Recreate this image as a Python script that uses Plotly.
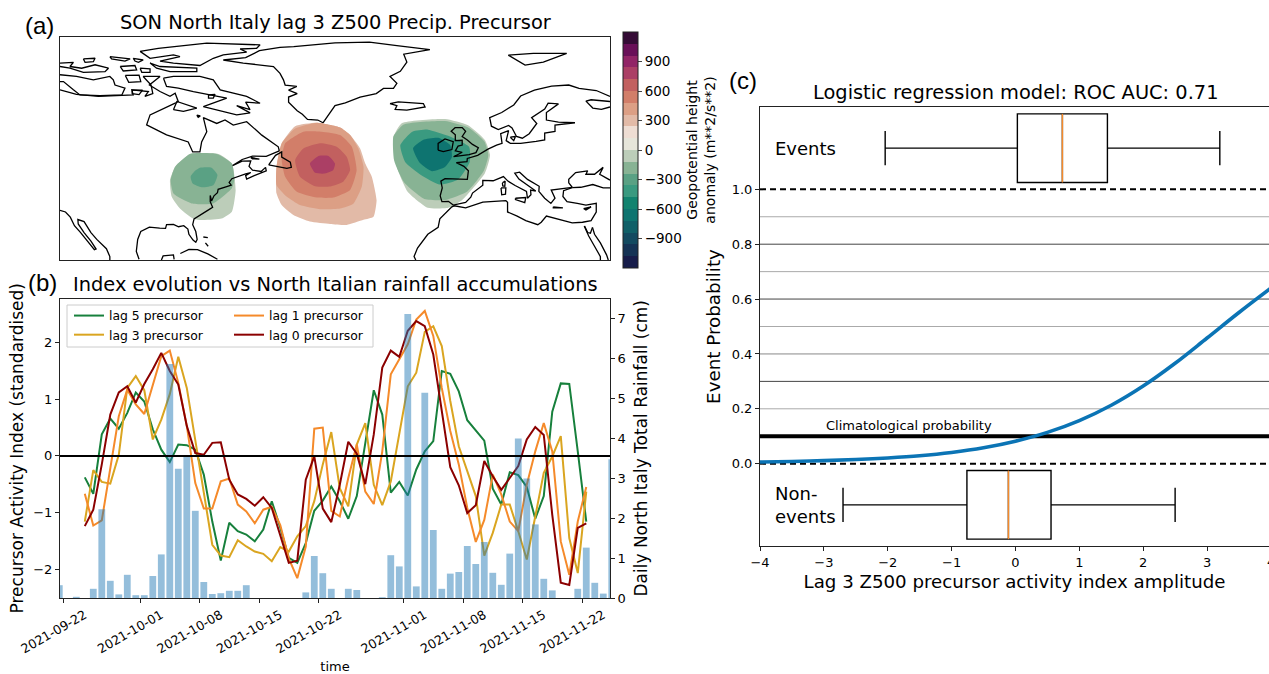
import pandas as pd
import plotly.graph_objects as go

W, H = 1269, 674
FONT = "DejaVu Sans"

# ---------- panel (a): coastlines as (lon, lat) ----------
mainland_north = [(-120,69.6),(-115.2,68.3),(-108.8,67.7),(-101.6,67.9),(-98.7,68.1),(-99.1,69.6),(-94.3,69.1),(-95.3,67.7),(-93,68.5),(-93.5,71),(-95.8,73.5),(-90.9,73.5),(-94,71),(-90.9,69.1),(-88,67.7),(-86.5,68.6),(-85.6,66.2),(-86.5,65.7),(-93.8,62.3),(-94.8,59.4),(-89,56.5),(-82.7,54.4),(-81.4,51.5),(-79.3,51.5),(-78.8,54.4),(-77.3,57.4),(-78.3,61.5),(-74.4,59.8),(-72,60.8),(-69.6,59.3),(-65.7,60.3),(-61.3,56.4),(-56.5,53),(-56.2,51.8)]
east_america = [(-56.2,51.8),(-60,50.2),(-64,50.3),(-67,49.3),(-69.8,47.5),(-67,48.8),(-64.5,48.9),(-65,47.3),(-64,46.2),(-61.5,45.8),(-60.2,47),(-60,46),(-63.5,44.6),(-65.7,43.6),(-66,44.6),(-64.5,45.5),(-66,45.1),(-67.5,44.6),(-70,43.7),(-70.8,42.6),(-70.2,41.8),(-71.5,41.4),(-74,40.6),(-74.2,39.6),(-75.2,38.7),(-75.9,37.2),(-76.3,38.8),(-76.3,37),(-75.6,35.4),(-76.8,34.6),(-78,33.9),(-79.5,33),(-81,32),(-81.4,30.3),(-80.5,28.3),(-80.1,26),(-80.5,25.2),(-81.3,25.8),(-82.5,27.5),(-82.8,29),(-84,30),(-85.5,29.7),(-87,30.4),(-89,30.3),(-89.3,29.2),(-91,29.3),(-94,29.6),(-96.5,28.3),(-97.4,26),(-97.8,22.5),(-97,20.2)]
west_mexico = [(-120,34.5),(-118.4,34),(-117,32.5),(-115.8,30),(-114,28),(-112,25.5),(-110,23),(-109.5,23.2),(-111,25.5),(-113,28),(-114.7,30.5),(-114.8,31.8),(-113,31.2),(-111,28),(-109.3,26),(-106.5,23.3),(-105.5,21),(-105.5,20)]
yucatan = [(-90.5,20),(-90,21.2),(-87,21.5),(-86.8,20.2)]
cuba = [(-85,21.9),(-82.5,23.1),(-80,23),(-77,21.8),(-74.2,20.2)]
bahamas_a = [(-78.3,26.7),(-77,26.5)]
bahamas_b = [(-77.7,25),(-76.9,24)]
greenland = [(-43.5,60),(-45,60.8),(-48,61),(-49.5,62.5),(-51,63.5),(-52,64.6),(-53.5,66),(-53.5,67.5),(-51,68.5),(-53.5,69.5),(-51.1,70.6),(-54.5,71),(-55,72.5),(-56,74.4),(-57.9,76.4),(-66.7,77.4),(-72.5,78.3),(-66,79),(-62,81),(-56,82),(-52,82.2),(-40,83.3),(-30,83.5),(-22,82.5),(-12.4,81.3),(-20,80),(-19.1,77.7),(-21,75),(-24,73.5),(-22,71.5),(-23,70),(-25.9,70),(-28,68.5),(-32.7,67.5),(-37,65.8),(-40,65),(-42,62),(-43.5,60)]
ellesmere = [(-96.7,80.8),(-91.4,81.7),(-77.3,83.2),(-61.8,82.7),(-62.8,81.7),(-67.6,81.5),(-65.7,80.6),(-72.5,79.8),(-75.4,78.8),(-79.3,76.7),(-87,77.4),(-89.4,77.8),(-90.9,78),(-85.1,79.3),(-87,79.8),(-93.8,78.8),(-96.7,80.8)]
devon = [(-93.8,77.4),(-90.9,76.4),(-80.2,75.9),(-80.2,74.9),(-88,74.9),(-91.9,75.9),(-93.8,77.4)]
axel = [(-98.7,78.8),(-95.8,78.3),(-97.2,77.6),(-98.2,78),(-98.7,78.8)]
cornwall = [(-96.7,75.9),(-93.8,75.7),(-93.8,74.7),(-96.2,74.7),(-96.7,75.9)]
melville = [(-120,77.4),(-116.1,77.6),(-117.1,76.4),(-113.7,75.9),(-109.8,76.9),(-105.9,75.9),(-106.9,74.9),(-113.2,74.7),(-117.1,75.9),(-120,76.4)]
bathurst = [(-102.5,76.4),(-98.2,76.7),(-97.7,75.4),(-101.6,75.1),(-102.5,76.4)]
island_a = [(-113.2,78.6),(-109.8,78.8),(-110.3,77.8),(-112.7,77.6),(-113.2,78.6)]
island_b = [(-105.5,79.3),(-99.6,78.6),(-101.1,78),(-105,78.6),(-105.5,79.3)]
victoria = [(-120,74),(-115.2,73.5),(-110.3,72.5),(-105.5,73.5),(-104.5,72.5),(-104,71),(-101.1,70.1),(-102,68.1),(-108.4,67.9),(-114.2,68.1),(-116.1,69.6),(-119,72),(-120,72)]
prince_wales = [(-101,73.8),(-97,73.9),(-96.5,72),(-100,71.8),(-101,73.8)]
king_william = [(-99,69.5),(-96,69.5),(-97,68.2),(-99,68.5),(-99,69.5)]
baffin = [(-89.9,73),(-87,73.5),(-79.3,73.5),(-75.4,72.5),(-73.4,69.6),(-65.7,67.7),(-61.8,65.7),(-66,66),(-64.7,63.8),(-68.6,65),(-64.7,62.9),(-68.6,62.3),(-78.3,64.7),(-71.5,67.2),(-81.2,69.1),(-85.6,70.1),(-89,70.6),(-89.9,73)]
nettilling = [(-76.8,68.1),(-74.9,68.3),(-75.4,67.2),(-76.8,67.2),(-76.8,68.1)]
southampton = [(-87,63.8),(-86,66.2),(-80.2,64.3),(-84.1,63.3),(-87,63.8)]
mansel = [(-80.2,62.2),(-79.2,62),(-79.8,61.6),(-80.2,62.2)]
newfoundland = [(-59.3,47.7),(-57.3,50.5),(-55.5,51.5),(-55.5,50),(-53,48.5),(-52.7,47),(-54,46.7),(-55.5,47),(-59.3,47.7)]
anticosti = [(-64.5,49.9),(-62,49.4),(-64,49.5),(-64.5,49.9)]
iceland = [(-24,65.6),(-21.6,66.1),(-14.3,65.6),(-13.8,64.6),(-19.1,63.7),(-22.5,63.9),(-22,65),(-24,65.6)]
svalbard = [(10.4,79.7),(17.7,80.2),(27.4,80.2),(23.5,78.7),(20.6,77.7),(15.3,76.8),(12.9,78.2),(10.4,79.7)]
ireland = [(-10,52),(-10,54),(-8,55.3),(-5.6,54.5),(-6,52.2),(-8.5,51.6),(-10,52)]
britain = [(-5,58.6),(-3,58.6),(-2,57.5),(-3,56),(-1.5,55),(0,53.7),(1.7,52.7),(1,51.3),(-1,50.7),(-3.5,50.3),(-5.5,50.1),(-3,51.4),(-5,51.8),(-4.2,53.2),(-3,53.5),(-3,54.9),(-5,54.8),(-5,56.5),(-6.2,57.5),(-5,58.6)]
north_europe = [(40,67.7),(36,69.4),(31,70),(28,71),(23,70.7),(18,69.5),(14,67.8),(12,65.2),(8.5,63),(5,61.5),(5.5,59),(7.5,58),(10.5,59.2),(11.5,58.5),(12.8,56),(14.5,55.5),(16.5,56.8),(18.7,59.8),(17.2,61.5),(21,64),(22,65.7),(25,65.5),(21.5,63),(21.5,60.8),(25,60.2),(29.8,60),(24,59.3),(24,57.5),(21,57),(21,55),(18.5,54.6),(14,54),(11,54),(9.8,54.8),(10.5,57.7),(8.2,56.8),(8.6,54),(7,53.5),(4.5,52.3),(2,51),(1.5,50.5),(-1.5,49.6),(-1.6,48.7),(-4.7,48.4),(-2.5,47.3),(-1.2,46),(-1.5,43.5),(-8,43.7),(-9.2,43),(-8.8,41),(-9.4,38.7),(-8.9,37),(-7,37.1),(-5.6,36),(-2,36.8),(-0.5,38.3),(0,39.5),(3,41.8),(3,43.2),(6,43.1),(9,44.3),(10.3,43),(12.4,41.7),(15.7,40),(16,38),(17,39),(16.9,40.4),(18.4,40.1),(15.8,41.9),(13.5,43.6),(12.3,45.3),(13.7,45.6),(16,43.5),(19.4,41.5),(19.3,40),(21,38),(22.8,36.5),(24,38),(22.9,40.4),(26,40.8),(29,41.2),(28,42.5),(28,43.5),(30,45.5),(33.5,46),(33,45),(35.5,45),(38,47),(37,45),(40,43.3)]
north_africa = [(29,41.1),(26.5,40.2),(26.3,38.5),(27.5,37),(30.5,36.5),(33,36),(36,36.5),(36,34),(34.5,31.5),(32,31),(29,30.8),(25,31.8),(21.5,32.8),(20,31),(19,30.3),(15.5,31.5),(13,32.8),(10.2,34),(10.2,36.8),(9.7,37.3),(3,36.9),(-2,35.2),(-5.3,35.8),(-6,35.5),(-9.5,32),(-10,29.5),(-13,27.5),(-16,23.5),(-17,21),(-16.5,20)]
black_sea_south = [(29,41.1),(31.5,41.2),(35,42),(38,41),(40,41)]
red_sea_west = [(32.5,29.9),(33.8,27),(35.5,24),(37.2,21),(37.2,20)]
red_sea_east = [(34.9,29.5),(35.5,27.5),(37.2,25),(39,21.5),(39.5,20)]
sinai = [(32.6,29.9),(33.5,28),(34.3,27.8),(34.9,29.5)]
crete = [(23.5,35.5),(26.3,35.2),(23.5,35.2),(23.5,35.5)]
cyprus = [(32.3,35),(34.5,35.5),(33,34.6),(32.3,35)]
sardinia = [(8.3,41),(9.7,41),(9.6,39.2),(8.5,39),(8.3,41)]
corsica = [(8.7,42.5),(9.5,43),(9.4,41.5),(8.8,41.6),(8.7,42.5)]
sicily = [(12.5,38),(15.5,38.2),(15.2,36.7),(12.5,37.6),(12.5,38)]
zealand = [(11,55.8),(12.5,56),(12,54.8),(11,55.8)]
white_sea = [(40,66.2),(34.5,66.7),(33,66.3),(35,64.3),(37.5,63.9),(40,64.6)]
coastlines = [mainland_north, east_america, west_mexico, yucatan, cuba, bahamas_a, bahamas_b, greenland, ellesmere, devon, axel, cornwall, melville, bathurst, island_a, island_b, victoria, prince_wales, king_william, baffin, nettilling, southampton, mansel, newfoundland, anticosti, iceland, svalbard, ireland, britain, north_europe, north_africa, black_sea_south, red_sea_west, red_sea_east, sinai, crete, cyprus, sardinia, corsica, sicily, zealand, white_sea]

# ---------- panel (a): anomaly contours, each with its band level ----------
west_low_outer = [(-82.2,50.9),(-73.9,50.9),(-70,48.1),(-68.9,40.4),(-70,34.1),(-73,32.1),(-80.7,31.8),(-85.1,35),(-87.5,38.4),(-88,43.3),(-86.5,47.2)]
west_low_mid = [(-82.2,50.9),(-74.4,50.9),(-70,48.1),(-69.3,43.3),(-70,40.9),(-75.4,36.5),(-81.7,36.5),(-87,39.4),(-87.8,43.3),(-86.5,47.2)]
west_low_core = [(-79.3,46.9),(-75.9,46.9),(-74.2,44.8),(-75.4,41.8),(-78.8,41.2),(-81.4,42.3),(-82,44.3),(-80.7,46)]
high_a = [(-51.6,59),(-45.3,60),(-38.5,58.6),(-35.6,56.4),(-32.7,52.5),(-31.2,48.1),(-29.3,44.3),(-27.9,37.5),(-28.8,32.6),(-31.7,31.7),(-36.6,30.2),(-41.4,30.5),(-47.3,31.2),(-52.1,33.1),(-55.5,36),(-57,39.4),(-57,47.2),(-55.5,54)]
high_b = [(-55.5,54),(-51.6,58.3),(-45.3,60),(-38.5,58.6),(-35.6,56.4),(-33.2,52.5),(-31.7,47.2),(-32.2,41.4),(-34.6,36.5),(-38.5,35),(-44.3,34.8),(-50.2,36),(-54,38.4),(-57,41.8),(-57,47.2)]
high_c = [(-54.5,54),(-49.2,57.4),(-43.9,57.4),(-38.5,56.4),(-35.1,53),(-33.7,46.2),(-35.6,40.4),(-40.5,38.2),(-45.3,38.2),(-51.1,39.9),(-54.5,44.3),(-55.5,49.1)]
high_d = [(-51.6,49.1),(-49.2,52.5),(-44.3,54),(-39.5,53),(-36.6,50.1),(-35.6,46.2),(-37.6,42.8),(-41.4,41.4),(-45.8,41.5),(-50.2,44.3)]
high_e = [(-47.3,48.1),(-44.8,50.3),(-41.9,50.3),(-40,48.1),(-40.5,46.2),(-42.9,45.2),(-45.8,45.4)]
east_low_a = [(-23.1,55.6),(-20.5,59.9),(-8,61.1),(-1.3,59.3),(3.6,55),(5.1,50.6),(3.6,45.3),(-3,37.5),(-7.1,35.2),(-13,35.2),(-18.8,39.8),(-22,47.1)]
east_low_b = [(-23,56),(-20,59.5),(-8,60.5),(-1,58.5),(3.5,54.5),(4.6,50.6),(3.3,46),(-1.5,40),(-8,37.5),(-14,37.8),(-19.8,42.5),(-22.8,49)]
east_low_c = [(-21,53.5),(-17.5,57.4),(-13,58),(-7.1,56.2),(-1,53),(-0.8,48.6),(-4.2,43.5),(-9.5,42),(-15,44.8),(-19.6,48.6)]
east_low_d = [(-17.3,52.6),(-14.4,55),(-10,55.6),(-6.5,53.5),(-6,50),(-8,47.1),(-11.8,45.9),(-15.3,48.3)]
anomaly_contours = [(west_low_outer,-120),(west_low_mid,-240),(west_low_core,-360),
                    (high_a,240),(high_b,360),(high_c,480),(high_d,600),(high_e,720),
                    (east_low_a,-120),(east_low_b,-240),(east_low_c,-480),(east_low_d,-720)]

band_levels = [-1200,-1080,-960,-840,-720,-600,-480,-360,-240,-120,0,120,240,360,480,600,720,840,960,1080]
band_colors = ["#171c4a","#153355","#134a60","#106068","#0e7470","#12836f","#3a9a80","#5aa184","#88b394","#bccdb9",
               "#e6e5da","#eeddd3","#e2baa7","#dc9f85","#d27e69","#c2605f","#ab3f65","#912466","#691058","#350c36"]

# ---------- panel (b) ----------
rain_days = pd.date_range("2021-09-21 12:00", periods=66, freq="D")
rain_cm = [.32,0,.03,0,.23,2.22,.43,.09,.58,.07,.07,.55,1.09,5.85,3.23,3.53,2.18,.40,.10,.12,.18,.18,.32,0,0,0,0,0,0,.14,1.05,.62,.23,0,.23,.2,0,0,.02,1.07,.79,7.1,.29,5.13,1.7,.23,.61,.65,1.3,.85,1.4,.63,.33,1.11,3.99,2.99,1.84,.48,.19,0,0,.23,1.26,.38,.11,3.47]
lag5 = [-.38,-.67,.38,.66,.48,.76,1.12,.96,.47,.11,-.11,.2,.19,.11,-.33,-1.16,-1.85,-1.18,-1.33,-1.39,-1.51,-1.3,-.8,-1.27,-1.8,-1.89,-1.54,-.97,-.79,-.54,-.8,-1.11,-.71,.2,1.16,.73,-.65,-.46,-.70,-.24,.08,.26,1.5,1.45,1.14,.63,.45,.27,-.58,-.86,-.29,-.34,-.55,-1.11,-.71,.78,1.28,1.27,.08,-1.16]
lag3 = [-1.16,-.25,-.46,-.49,.02,1.2,1.41,1.16,.29,.64,1.09,1.75,1.2,.29,-.68,-1.57,-1.76,-1.79,-1.49,-1.6,-1.69,-1.73,-1.86,-1.61,-1.69,-1.42,-1.24,-.8,-.15,.42,-.57,-.89,.2,.58,-.51,-.87,-.45,.38,1.23,1.47,2.19,2.29,1.94,.97,.17,-.27,-.71,-1.76,-1.36,-.86,-.86,-1.33,-1.83,-1.07,-.3,-.01,.35,-1.45,-2.07,-.63]
lag1 = [-.67,-1.23,-1.14,-.24,.7,1.17,.91,.74,1.26,1.76,1.86,1.29,.53,-.48,-.93,-.93,-.45,-.4,-.86,-.98,-1.19,-.95,-.9,-1.22,-1.81,-2.16,-1.6,.48,.5,-.97,-1.07,-.39,.2,-.63,-.85,.08,1.44,1.7,1.97,2.41,2.56,2.12,1.2,.44,-.15,-.92,-1.52,-1.13,-.33,-.68,-1.16,-1.33,-.51,.08,.58,.08,-1.51,-2.1,-1.16,-.55]
lag0 = [-1.24,-.95,-.15,.73,1.12,1.23,.94,1.27,1.53,1.82,1.5,1.26,.53,.05,.02,.23,.24,-.42,-.68,-.76,-.88,-.73,-.92,-1.39,-1.89,-1.85,-.42,-.01,-.93,-1.17,-.51,.25,.04,-.5,.38,1.56,1.86,1.75,2.21,2.38,2.29,1.79,.79,-.2,-.52,-1.01,-.87,-.09,-.36,-.6,-.39,-.18,.29,.51,.37,-1.04,-2.24,-2.28,-1.27,-1.19]
date_ticks = ["2021-09-22","2021-10-01","2021-10-08","2021-10-15","2021-10-22","2021-11-01","2021-11-08","2021-11-15","2021-11-22"]

# ---------- panel (c) ----------
amp = [-4,-3.5,-3,-2.5,-2,-1.5,-1,-.5,0,.5,1,1.5,2,2.5,3,3.5,4]
prob = [.006,.008,.011,.015,.021,.029,.041,.058,.082,.114,.157,.213,.283,.366,.458,.551,.64]
grid_levels = [.9,.8,.7,.6,.5,.4,.3,.2]
grid_colors = ["#aaaaaa","#444444","#aaaaaa","#444444","#aaaaaa","#888888","#444444","#aaaaaa"]
events_box = dict(low=-2.04, q1=.03, med=.735, q3=1.44, high=3.2, pos=1.15)
nonevents_box = dict(low=-2.70, q1=-.76, med=-.11, q3=.557, high=2.5, pos=-.15)

def px_x(p): return p / W
def px_y(p): return 1 - p / H

fig = go.Figure()

level_color = dict(zip(band_levels, band_colors))
for poly, lev in anomaly_contours:
    xs = [p[0] for p in poly] + [poly[0][0]]
    ys = [p[1] for p in poly] + [poly[0][1]]
    fig.add_trace(go.Scatter(x=xs, y=ys, mode="lines", fill="toself", fillcolor=level_color[lev],
                             line=dict(width=0, shape="spline", smoothing=0.5), hoverinfo="skip",
                             showlegend=False, xaxis="x", yaxis="y"))
for c in coastlines:
    fig.add_trace(go.Scatter(x=[p[0] for p in c], y=[p[1] for p in c], mode="lines",
                             line=dict(color="black", width=1.3), hoverinfo="skip",
                             showlegend=False, xaxis="x", yaxis="y"))
scale = []
for k, col in enumerate(band_colors):
    scale += [[k / 20, col], [(k + 1) / 20, col]]
fig.add_trace(go.Scatter(x=[-100], y=[60], mode="markers", showlegend=False, hoverinfo="skip",
    marker=dict(size=1, opacity=0, color=[0], cmin=-1200, cmax=1200, colorscale=scale, showscale=True,
        colorbar=dict(x=px_x(623), xanchor="left", y=px_y(32), yanchor="top", len=236, lenmode="pixels",
                      thickness=15, thicknessmode="pixels", xpad=0, ypad=0, outlinewidth=1, outlinecolor="#222",
                      tickvals=[-900,-600,-300,0,300,600,900], ticks="outside", ticklen=4, tickfont=dict(size=13.5),
                      title=dict(text="Geopotential height<br>anomaly (m**2/s**2)", side="right", font=dict(size=14)))),
    xaxis="x", yaxis="y"))

line_days = rain_days[3:63]
series = [("lag 5 precursor", lag5, "#17803c", "legend"), ("lag 3 precursor", lag3, "#daa520", "legend"),
          ("lag 1 precursor", lag1, "#f58a2a", "legend2"), ("lag 0 precursor", lag0, "#8b0000", "legend2")]
for name, vals, col, leg in series:
    fig.add_trace(go.Scatter(x=line_days, y=vals, mode="lines", name=name, line=dict(color=col, width=2),
                             xaxis="x2", yaxis="y2", legend=leg))
fig.add_trace(go.Bar(x=rain_days, y=rain_cm, marker=dict(color="rgba(31,119,180,0.48)", line=dict(width=0)),
                     showlegend=False, xaxis="x2", yaxis="y3"))

fig.add_trace(go.Scatter(x=amp, y=prob, mode="lines", line=dict(color="#0b74b5", width=3.6, shape="spline"),
                         showlegend=False, xaxis="x3", yaxis="y4"))
for b in (events_box, nonevents_box):
    fig.add_trace(go.Box(y=[b["pos"]], q1=[b["q1"]], median=[b["med"]], q3=[b["q3"]], lowerfence=[b["low"]],
                         upperfence=[b["high"]], orientation="h", width=.25, whiskerwidth=.5, boxpoints=False,
                         line=dict(color="black", width=1.4), fillcolor="rgba(0,0,0,0)", showlegend=False,
                         xaxis="x3", yaxis="y4"))
    fig.add_trace(go.Scatter(x=[b["med"], b["med"]], y=[b["pos"] - .125, b["pos"] + .125], mode="lines",
                             line=dict(color="#f58a2a", width=1.4), showlegend=False, xaxis="x3", yaxis="y4"))

shapes = []
shapes.append(dict(type="line", xref="x2 domain", yref="y2", x0=0, x1=1, y0=0, y1=0, line=dict(color="black", width=2), layer="above"))
for lev, col in zip(grid_levels, grid_colors):
    shapes.append(dict(type="line", xref="x3 domain", yref="y4", x0=0, x1=1, y0=lev, y1=lev, line=dict(color=col, width=1), layer="below"))
for lev in (0, 1):
    shapes.append(dict(type="line", xref="x3 domain", yref="y4", x0=0, x1=1, y0=lev, y1=lev, line=dict(color="black", width=2, dash="6px,4px"), layer="below"))
shapes.append(dict(type="line", xref="x3 domain", yref="y4", x0=0, x1=1, y0=.1, y1=.1, line=dict(color="black", width=4), layer="below"))
shapes.append(dict(type="rect", xref="paper", yref="paper", x0=px_x(67), x1=px_x(373), y0=px_y(347), y1=px_y(305),
                   line=dict(color="#cccccc", width=1), fillcolor="rgba(255,255,255,0.8)", layer="above"))

def txt(x, y, s, size, family=FONT, xanchor="center", **kw):
    return dict(x=x, y=y, text=s, showarrow=False, font=dict(size=size, family=family, color="black"), xanchor=xanchor,
                yanchor="middle", xref=kw.pop("xref", "paper"), yref=kw.pop("yref", "paper"), **kw)

annotations = [
    txt(px_x(335.5), px_y(22), "SON North Italy lag 3 Z500 Precip. Precursor", 19.4),
    txt(px_x(335), px_y(284), "Index evolution vs North Italian rainfall accumulations", 19.4),
    txt(px_x(1016), px_y(93), "Logistic regression model: ROC AUC: 0.71", 19.4),
    txt(px_x(39), px_y(25), "(a)", 24, "Liberation Sans"),
    txt(px_x(42), px_y(282), "(b)", 24, "Liberation Sans"),
    txt(px_x(743), px_y(81), "(c)", 24, "Liberation Sans"),
    txt(-3, .138, "Climatological probability", 13, xref="x3", yref="y4", xanchor="left"),
    txt(-3.8, 1.15, "Events", 18, xref="x3", yref="y4", xanchor="left"),
    txt(-3.8, -.15, "Non-<br>events", 18, xref="x3", yref="y4", xanchor="left", align="left"),
    txt(px_x(1271), px_y(561), "4", 13),
]

ax = dict(showgrid=False, zeroline=False, showline=True, linecolor="#222", linewidth=1, ticks="outside",
          ticklen=4, tickcolor="#222", automargin=False)
fig.update_layout(
    width=W, height=H, autosize=False, margin=dict(l=0, r=0, t=0, b=0), paper_bgcolor="white", plot_bgcolor="white",
    font=dict(family=FONT, size=13, color="black"), bargap=.2, boxmode="overlay", showlegend=True,
    shapes=shapes, annotations=annotations,
    legend=dict(x=px_x(69), y=px_y(301), xanchor="left", yanchor="top", bgcolor="rgba(0,0,0,0)", font=dict(size=12.4), itemwidth=30, tracegroupgap=0),
    legend2=dict(x=px_x(229), y=px_y(301), xanchor="left", yanchor="top", bgcolor="rgba(0,0,0,0)", font=dict(size=12.4), itemwidth=30, tracegroupgap=0),
    xaxis=dict(domain=[px_x(60), px_x(610)], range=[-120, 40], showgrid=False, zeroline=False, showline=True, mirror=True,
               linecolor="#222", linewidth=1, showticklabels=False, ticks=""),
    yaxis=dict(domain=[px_y(260), px_y(37)], range=[20, 85], showgrid=False, zeroline=False, showline=True, mirror=True,
               linecolor="#222", linewidth=1, showticklabels=False, ticks=""),
    xaxis2=dict(ax, domain=[px_x(60), px_x(610)], range=["2021-09-21 14:00", "2021-11-25 07:00"], anchor="y2", mirror=True,
                tickvals=date_ticks, ticktext=date_ticks, tickangle=-30, tickfont=dict(size=12.6), ticklabeloverflow="allow", ticklabelshift=21,
                title=dict(text="time", font=dict(size=13), standoff=6)),
    yaxis2=dict(ax, domain=[px_y(598), px_y(298.5)], range=[-2.51, 2.78], anchor="x2", tickvals=[-2,-1,0,1,2], tickfont=dict(size=13),
                title=dict(text="Precursor Activity Index (standardised)", font=dict(size=17), standoff=5)),
    yaxis3=dict(ax, domain=[px_y(598), px_y(298.5)], range=[0, 7.49], anchor="x2", overlaying="y2", side="right",
                tickvals=[0,1,2,3,4,5,6,7], tickfont=dict(size=13),
                title=dict(text="Daily North Italy Total Rainfall (cm)", font=dict(size=17), standoff=10)),
    xaxis3=dict(ax, domain=[px_x(760), 1], range=[-4, 3.97], anchor="y4", mirror=True, tickvals=[-4,-3,-2,-1,0,1,2,3], tickfont=dict(size=13),
                title=dict(text="Lag 3 Z500 precursor activity index amplitude", font=dict(size=18.2), standoff=6)),
    yaxis4=dict(ax, domain=[px_y(546), px_y(107)], range=[-.3, 1.3], anchor="x3", tickvals=[0,.2,.4,.6,.8,1], tickformat=".1f", tickfont=dict(size=13),
                title=dict(text="Event Probability", font=dict(size=18.3), standoff=6)),
)
fig.write_html("out.html", config={"displayModeBar": False}, post_script="document.body.style.margin='0';")
